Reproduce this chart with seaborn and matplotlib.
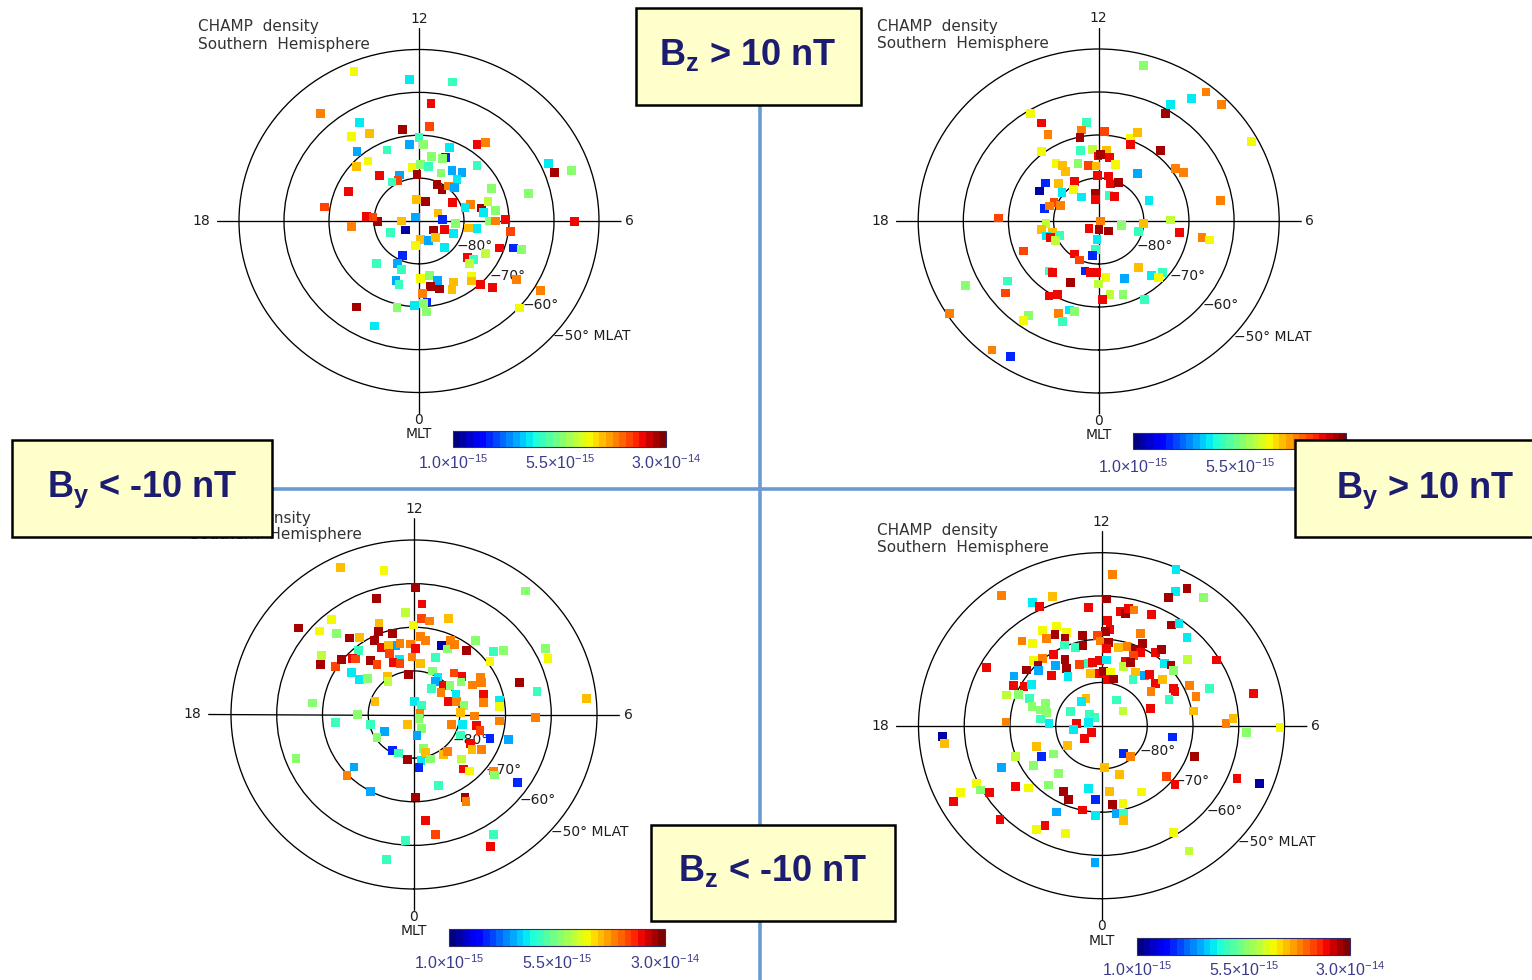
import numpy as np
import pandas as pd
import matplotlib
matplotlib.use("Agg")
import matplotlib as mpl
import matplotlib.pyplot as plt
from matplotlib.colors import LogNorm
from matplotlib.patches import Rectangle
from matplotlib.lines import Line2D
import seaborn as sns

sns.set_style("white")
plt.rcParams["font.family"] = ["DejaVu Sans"]
plt.rcParams["mathtext.fontset"] = "custom"
plt.rcParams["mathtext.rm"] = "Liberation Sans"
plt.rcParams["mathtext.it"] = "Liberation Sans:italic"
plt.rcParams["mathtext.bf"] = "Liberation Sans:bold"
plt.rcParams["mathtext.sf"] = "Liberation Sans"

# ---------------------------------------------------------------------------
# CHAMP neutral density, southern hemisphere, sorted by IMF orientation.
# Each record: (MLT [h], MLAT [deg], density [1e-15 units])
# ---------------------------------------------------------------------------
bz_pos = [
    (13.5, -52.2, 8.8), (12.25, -56.9, 3.4), (11.13, -56.7, 4.4), (14.75, -56.7, 13),
    (11.63, -62.5, 20), (14.0, -63.5, 3.4), (12.64, -68.3, 26), (11.6, -67.9, 16),
    (14.47, -65.2, 8.8), (13.9, -66.8, 10.8), (12.0, -70.6, 4.4), (12.46, -72.0, 2.7),
    (11.78, -72.1, 5.8), (9.61, -68.0, 20), (9.41, -66.4, 13), (14.69, -68.7, 2.7),
    (13.55, -72.0, 4.4), (10.55, -71.6, 3.4), (14.6, -72.0, 8.8), (10.56, -74.0, 1.8),
    (11.31, -74.8, 5.8), (10.69, -74.6, 5.8), (15.16, -71.25, 10.8), (12.48, -77.5, 8.8),
    (11.9, -76.8, 5.8), (11.36, -77.1, 4.4), (9.02, -71.7, 4.4), (14.65, -76.2, 20),
    (13.48, -78.4, 2.7), (12.16, -79.2, 26), (10.43, -77.8, 5.8), (9.88, -76.1, 2.7),
    (9.32, -75.2, 2.7), (13.74, -79.4, 16), (14.23, -79.1, 4.4), (9.27, -77.1, 3.4),
    (10.33, -80.6, 26), (9.67, -81.1, 26), (9.41, -79.5, 13), (8.96, -78.9, 2.7),
    (16.41, -72.9, 20), (7.69, -72.1, 5.8), (7.67, -58.2, 3.4), (7.36, -57.8, 26),
    (7.28, -54.1, 5.8), (6.99, -64.8, 5.8), (12.45, -85.0, 10.8), (10.81, -85.2, 26),
    (7.99, -81.4, 20), (7.23, -78.0, 13), (7.16, -79.3, 3.4), (6.82, -75.8, 26),
    (7.11, -74.0, 7.2), (6.55, -72.8, 5.8), (6.51, -75.5, 3.4), (17.41, -68.8, 16),
    (17.65, -78.25, 20), (18.07, -80.7, 26), (17.65, -79.75, 16), (18.32, -74.95, 13),
    (18.0, -86.1, 10.8), (14.58, -88.8, 2.7), (7.59, -85.4, 10.8), (6.28, -84.7, 1.8),
    (5.71, -81.8, 5.8), (5.44, -78.9, 10.8), (5.47, -77.0, 3.4), (6.0, -74.4, 5.8),
    (6.0, -73.0, 13), (6.08, -70.8, 20), (5.55, -69.5, 16), (5.98, -55.4, 20),
    (19.55, -83.1, 4.4), (20.39, -86.4, 1.2), (3.8, -86.1, 26), (4.73, -84.0, 20),
    (4.59, -81.8, 3.4), (0.27, -85.7, 10.8), (23.51, -84.3, 8.8), (1.62, -85.0, 2.7),
    (2.87, -84.7, 10.8), (2.81, -81.6, 3.4), (4.7, -71.1, 20), (4.89, -68.1, 1.8),
    (4.92, -66.3, 5.8), (22.36, -81.2, 1.8), (3.46, -76.3, 20), (3.55, -74.9, 4.4),
    (4.18, -73.35, 7.2), (3.23, -75.0, 7.2), (21.09, -76.3, 4.4), (22.29, -78.95, 2.7),
    (22.75, -78.0, 4.4), (0.09, -76.55, 8.8), (0.68, -77.0, 5.8), (1.1, -75.6, 2.7),
    (22.65, -75.3, 2.7), (22.89, -74.55, 4.4), (0.62, -74.5, 26), (1.07, -73.5, 26),
    (1.9, -73.8, 10.8), (1.64, -72.4, 10.8), (2.8, -72.65, 8.8), (2.65, -71.8, 10.8),
    (2.84, -69.9, 20), (3.09, -67.4, 20), (3.85, -64.3, 13), (3.93, -58.5, 13),
    (0.18, -73.0, 13), (0.36, -71.0, 1.8), (23.8, -70.3, 3.4), (0.2, -70.7, 5.8),
    (0.29, -68.7, 5.8), (23.09, -69.3, 5.8), (21.68, -65.6, 26), (3.19, -59.8, 8.8),
    (22.54, -63.6, 3.4),
]

by_pos = [
    (10.98, -52.6, 5.8), (9.44, -51.7, 13), (9.61, -54.9, 3.4), (8.99, -51.5, 13),
    (9.97, -58.6, 3.4), (9.96, -60.95, 26), (7.91, -51.5, 8.8), (14.07, -60.8, 8.8),
    (13.94, -63.9, 20), (12.46, -66.9, 4.4), (12.68, -68.5, 13), (13.94, -66.9, 13),
    (12.8, -70.1, 26), (11.77, -69.1, 16), (10.66, -69.55, 8.8), (10.48, -67.7, 10.8),
    (10.55, -70.8, 20), (9.34, -68.6, 26), (14.55, -69.4, 8.8), (12.91, -73.1, 4.4),
    (12.32, -73.25, 7.2), (11.59, -73.5, 10.8), (12.04, -74.9, 20), (11.9, -74.6, 26),
    (11.37, -75.1, 20), (14.36, -73.7, 8.8), (14.12, -74.9, 10.8), (14.18, -76.3, 10.8),
    (13.26, -75.8, 5.8), (12.65, -76.9, 16), (12.18, -77.2, 10.8), (10.96, -76.3, 8.8),
    (8.39, -69.1, 13), (8.05, -68.1, 13), (9.46, -76.05, 2.7), (12.1, -79.5, 20),
    (11.21, -79.3, 20), (10.86, -81.0, 20), (10.25, -80.1, 26), (14.0, -79.4, 20),
    (15.53, -75.3, 1.8), (16.14, -75.1, 1.2), (15.04, -77.6, 10.8), (15.4, -79.55, 3.4),
    (14.48, -80.84, 8.8), (14.3, -83.2, 3.4), (12.39, -83.5, 26), (12.56, -84.9, 20),
    (10.58, -83.7, 4.4), (9.9, -83.36, 20), (7.54, -77.9, 3.4), (6.67, -62.5, 13),
    (17.11, -77.6, 1.8), (16.43, -79.2, 16), (16.82, -78.55, 13), (16.48, -80.8, 13),
    (17.88, -67.7, 16), (18.18, -78.3, 7.2), (18.58, -77.1, 10.8), (18.96, -79.4, 10.8),
    (19.12, -78.0, 3.4), (19.31, -78.7, 20), (19.43, -80.65, 4.4), (19.7, -79.4, 7.2),
    (6.0, -89.56, 13), (20.58, -87.26, 20), (0.14, -88.06, 26), (2.91, -86.78, 26),
    (5.25, -84.88, 5.8), (5.79, -80.0, 10.8), (4.99, -80.82, 4.4), (6.06, -74.0, 7.2),
    (5.44, -71.9, 20), (5.36, -66.8, 13), (5.32, -65.0, 8.8), (23.67, -85.72, 3.4),
    (23.57, -83.37, 4.4), (23.34, -81.9, 1.8), (19.52, -72.0, 16), (21.66, -80.62, 20),
    (22.33, -80.0, 16), (23.02, -78.0, 1.8), (23.39, -77.95, 20), (23.86, -78.1, 20),
    (0.47, -76.8, 8.8), (0.0, -75.35, 7.2), (21.1, -74.0, 4.4), (21.31, -74.3, 20),
    (22.41, -74.4, 26), (1.55, -75.5, 2.7), (2.6, -76.0, 10.8), (2.84, -72.7, 3.4),
    (3.33, -71.5, 4.4), (3.03, -71.3, 8.8), (0.56, -72.8, 7.2), (1.17, -72.1, 5.8),
    (1.92, -69.1, 4.4), (0.19, -71.7, 20), (21.85, -69.4, 20), (22.13, -70.6, 20),
    (19.8, -56.9, 5.8), (20.31, -65.5, 4.4), (20.6, -63.4, 16), (20.2, -50.5, 13),
    (21.64, -63.1, 5.8), (21.62, -61.4, 8.8), (22.51, -66.7, 13), (22.84, -68.3, 3.4),
    (23.05, -68.2, 5.8), (22.75, -65.3, 4.4), (21.45, -51.8, 13), (21.89, -52.9, 1.8),
]

by_neg = [
    (13.71, -52.7, 10.8), (12.75, -56.3, 8.8), (11.96, -60.8, 26), (9.28, -52.6, 5.8),
    (13.14, -62.2, 26), (11.74, -64.6, 20), (12.31, -66.5, 7.2), (15.46, -57.9, 26),
    (14.65, -61.7, 8.8), (15.14, -61.9, 8.8), (14.83, -64.8, 5.8), (13.34, -67.8, 10.8),
    (13.49, -69.4, 26), (12.96, -70.9, 26), (14.58, -67.5, 26), (14.28, -68.7, 10.8),
    (13.8, -71.0, 26), (13.64, -73.1, 20), (12.95, -73.7, 2.7), (13.29, -73.25, 10.8),
    (12.71, -73.4, 13), (12.03, -69.5, 8.8), (11.72, -67.95, 16), (11.41, -68.3, 13),
    (10.73, -66.7, 10.8), (11.69, -72.0, 13), (11.43, -72.8, 13), (12.17, -73.8, 13),
    (11.93, -74.9, 20), (10.61, -73.1, 1.2), (10.26, -73.3, 5.8), (10.33, -71.2, 13),
    (10.07, -71.6, 13), (9.44, -68.4, 5.8), (9.46, -71.3, 26), (8.64, -67.45, 4.4),
    (8.46, -65.6, 5.8), (8.42, -69.4, 8.8), (7.85, -57.6, 5.8), (7.58, -58.0, 8.8),
    (15.73, -65.7, 7.2), (14.65, -71.0, 4.4), (13.41, -75.0, 16), (12.95, -77.0, 3.4),
    (13.42, -77.3, 20), (12.98, -77.9, 16), (12.13, -76.8, 13), (11.53, -78.2, 10.8),
    (10.67, -76.1, 4.4), (16.05, -66.6, 26), (15.84, -69.6, 16), (15.44, -69.7, 26),
    (15.09, -71.5, 20), (15.0, -72.0, 16), (14.5, -74.4, 26), (14.36, -76.0, 16),
    (15.67, -73.35, 3.4), (15.72, -75.7, 3.4), (15.4, -77.0, 5.8), (14.25, -79.5, 10.8),
    (14.45, -80.5, 7.2), (12.48, -80.77, 26), (10.51, -79.2, 5.8), (9.88, -80.03, 3.4),
    (9.84, -81.14, 2.7), (9.06, -80.77, 20), (9.8, -82.9, 4.4), (8.72, -82.19, 13),
    (8.69, -79.65, 5.8), (9.16, -77.05, 16), (8.66, -76.3, 20), (8.39, -77.3, 5.8),
    (7.85, -75.5, 13), (8.02, -73.25, 13), (7.76, -73.5, 13), (7.14, -74.1, 20),
    (6.7, -74.55, 13), (7.17, -65.8, 26), (6.74, -62.6, 4.4), (6.37, -52.2, 10.8),
    (5.9, -63.5, 13), (17.55, -67.65, 5.8), (16.69, -80.94, 10.8), (11.8, -87.1, 3.4),
    (9.4, -87.45, 4.4), (6.66, -88.67, 13), (3.18, -88.53, 5.8), (7.4, -81.87, 20),
    (7.15, -80.22, 13), (7.8, -79.7, 3.4), (6.71, -78.9, 5.8), (6.17, -79.8, 10.8),
    (5.9, -76.8, 13), (6.66, -71.0, 3.4), (6.36, -71.2, 8.8), (5.7, -71.3, 13),
    (18.0, -77.7, 5.8), (18.4, -72.7, 4.4), (18.93, -80.15, 4.4), (20.09, -82.38, 2.7),
    (21.9, -87.22, 10.8), (1.78, -86.41, 5.8), (0.52, -85.14, 2.7), (20.2, -80.34, 5.8),
    (5.0, -81.46, 13), (5.19, -79.2, 3.4), (5.28, -76.1, 20), (5.03, -75.1, 16),
    (4.36, -78.75, 4.4), (4.12, -75.9, 20), (3.85, -75.0, 10.8), (4.1, -73.3, 13),
    (4.78, -72.5, 1.8), (4.97, -68.5, 2.7), (22.02, -80.42, 1.8), (22.61, -80.53, 4.4),
    (23.46, -79.6, 26), (0.55, -79.3, 3.4), (0.34, -77.85, 1.8), (1.01, -81.93, 5.8),
    (1.08, -80.86, 10.8), (1.3, -79.2, 5.8), (2.32, -78.75, 10.8), (2.7, -78.8, 13),
    (3.04, -75.4, 7.2), (2.72, -73.5, 20), (2.88, -72.2, 8.8), (3.56, -68.3, 13),
    (3.44, -67.65, 5.8), (3.69, -62.6, 1.8), (20.83, -72.2, 2.7), (20.9, -69.8, 13),
    (22.1, -70.0, 2.7), (1.21, -72.95, 4.4), (0.06, -71.1, 26), (2.03, -68.0, 26),
    (1.97, -67.0, 13), (19.43, -62.3, 5.8), (0.38, -65.5, 20), (0.65, -62.1, 16),
    (2.15, -57.5, 4.4), (1.93, -55.5, 20), (23.76, -61.0, 4.4), (23.32, -56.3, 4.4),
]

bz_neg = [
    (11.74, -55.0, 13), (10.38, -50.4, 3.4), (9.97, -53.1, 26), (10.16, -55.0, 3.4),
    (10.26, -56.9, 26), (9.54, -52.9, 5.8), (14.4, -52.9, 13), (13.31, -58.2, 10.8),
    (13.86, -57.7, 3.4), (13.75, -59.2, 20), (12.4, -62.5, 20), (11.85, -60.7, 26),
    (11.42, -63.2, 20), (11.23, -63.5, 26), (11.17, -62.3, 20), (11.01, -62.3, 13),
    (10.46, -62.0, 20), (11.79, -65.7, 20), (11.68, -67.6, 20), (11.86, -68.2, 26),
    (9.77, -62.1, 26), (9.63, -60.9, 3.4), (9.16, -62.4, 3.4), (10.56, -67.0, 13),
    (13.55, -65.1, 8.8), (14.02, -64.5, 8.8), (13.29, -67.1, 8.8), (13.72, -66.65, 26),
    (13.44, -68.3, 26), (14.04, -66.5, 13), (14.77, -63.8, 13), (14.55, -65.7, 8.8),
    (13.55, -69.7, 4.4), (13.15, -71.0, 4.4), (12.74, -68.7, 26), (12.82, -71.1, 26),
    (12.15, -69.2, 16), (12.06, -70.4, 13), (11.7, -70.7, 26), (11.78, -72.1, 20),
    (11.23, -71.5, 10.8), (10.87, -70.9, 13), (10.47, -70.8, 26), (10.32, -68.9, 26),
    (10.23, -71.1, 20), (10.44, -72.3, 16), (9.67, -69.4, 20), (9.57, -68.0, 26),
    (14.16, -70.4, 20), (14.64, -69.8, 13), (14.98, -68.8, 8.8), (15.46, -69.1, 26),
    (14.99, -70.3, 26), (15.16, -71.25, 2.7), (14.38, -72.9, 2.7), (13.83, -72.7, 26),
    (14.0, -74.8, 26), (14.19, -76.5, 3.4), (14.87, -74.0, 20), (13.26, -75.1, 16),
    (12.77, -75.4, 4.4), (12.49, -75.2, 20), (12.13, -75.0, 20), (11.71, -74.75, 3.4),
    (12.77, -77.65, 10.8), (12.18, -77.9, 20), (11.85, -77.4, 26), (11.38, -77.45, 8.8),
    (10.72, -74.3, 20), (10.71, -75.5, 7.2), (10.45, -74.0, 26), (9.93, -75.5, 10.8),
    (9.81, -77.3, 4.4), (9.41, -75.0, 2.7), (9.25, -74.2, 20), (9.09, -70.1, 3.4),
    (8.85, -69.3, 26), (8.59, -69.7, 5.8), (8.6, -65.75, 7.2), (8.08, -60.7, 20),
    (11.5, -79.3, 20), (11.09, -78.9, 26), (15.93, -67.7, 2.7), (16.3, -68.6, 20),
    (16.12, -70.8, 20), (15.86, -71.95, 3.4), (16.74, -68.1, 7.2), (16.55, -70.4, 5.8),
    (16.54, -73.0, 4.4), (16.93, -74.2, 5.8), (16.48, -76.65, 5.8), (16.98, -76.2, 5.8),
    (17.04, -77.6, 5.8), (17.56, -76.5, 4.4), (17.82, -78.5, 3.4), (16.12, -61.5, 20),
    (8.64, -74.6, 20), (8.6, -72.9, 10.8), (8.4, -76.6, 13), (7.91, -72.0, 20),
    (7.74, -72.1, 20), (7.47, -74.1, 4.4), (7.7, -68.6, 13), (7.2, -68.3, 13),
    (7.34, -64.9, 4.4), (6.64, -69.6, 10.8), (6.84, -55.9, 20), (7.36, -78.5, 20),
    (10.08, -83.2, 4.4), (8.39, -84.22, 7.2), (13.87, -82.83, 10.8), (14.53, -82.97, 3.4),
    (16.29, -82.54, 4.4), (14.9, -86.29, 4.4), (14.56, -87.54, 4.4), (17.0, -87.05, 3.4),
    (17.62, -84.57, 20), (18.53, -83.81, 3.4), (20.37, -87.22, 20), (20.58, -85.13, 20),
    (17.84, -69.1, 13), (6.08, -62.8, 13), (6.23, -61.2, 10.8), (5.81, -58.3, 5.8),
    (5.96, -51.0, 8.8), (18.28, -55.2, 1.2), (18.46, -55.5, 10.8), (5.36, -74.3, 1.8),
    (20.12, -81.22, 10.8), (19.24, -75.0, 10.8), (19.91, -75.1, 1.8), (20.13, -77.6, 5.8),
    (19.4, -69.9, 7.2), (20.11, -72.5, 5.8), (19.58, -66.1, 2.7), (2.46, -81.98, 1.8),
    (2.75, -80.46, 13), (4.71, -68.4, 26), (0.26, -80.33, 10.8), (21.33, -75.5, 5.8),
    (1.28, -78.0, 10.8), (3.36, -71.5, 16), (3.31, -68.9, 20), (4.51, -58.0, 20),
    (4.59, -52.9, 1.2), (19.74, -59.6, 8.8), (19.96, -59.7, 5.8), (19.78, -55.5, 8.8),
    (19.9, -53.1, 20), (20.16, -61.1, 20), (20.45, -66.6, 20), (20.8, -68.5, 8.8),
    (21.33, -72.1, 5.8), (22.1, -72.6, 26), (22.46, -71.5, 26), (23.28, -75.1, 5.8),
    (23.69, -72.95, 1.8), (0.43, -74.6, 10.8), (1.97, -72.4, 8.8), (0.52, -71.7, 26),
    (0.98, -71.4, 8.8), (23.21, -70.1, 20), (23.76, -69.2, 3.4), (0.6, -69.45, 2.7),
    (0.89, -69.1, 4.4), (0.83, -67.6, 10.8), (22.24, -67.7, 2.7), (20.95, -59.0, 20),
    (21.96, -62.1, 8.8), (22.12, -63.9, 20), (22.84, -63.9, 8.8), (2.17, -60.6, 8.8),
    (2.23, -55.3, 7.2), (23.83, -58.3, 2.7), (23.26, -75.2, 3.4),
]

# Axis annotations
mlt_ticks = [0, 6, 12, 18]
ring_mlat = [-80, -70, -60, -50]
ring_text = ["\u221280\u00b0", "\u221270\u00b0", "\u221260\u00b0", "\u221250\u00b0 MLAT"]
ring_text_mlt = [3.7, 3.4, 3.3, 3.2]
dens_range = (1.0, 30.0)  # 1.0e-15 .. 3.0e-14
cbar_labels = [r"$1.0{\times}10^{-15}$", r"$5.5{\times}10^{-15}$", r"$3.0{\times}10^{-14}$"]
title_lines = ["CHAMP  density", "Southern  Hemisphere"]
imf_labels = [r"$\mathbf{B_z}$ > 10 nT", r"$\mathbf{B_y}$ < -10 nT",
              r"$\mathbf{B_y}$ > 10 nT", r"$\mathbf{B_z}$ < -10 nT"]

# ---------------------------------------------------------------------------
W, H = 1532, 980
fig = plt.figure(figsize=(W / 100, H / 100), dpi=100)
fig.patch.set_facecolor("white")

R_EDGE = 45.0          # colatitude reached by the MLT cross-hair arms
cmap = mpl.colormaps["jet"].resampled(32)
norm = LogNorm(vmin=dens_range[0], vmax=dens_range[1])
TXT = "#1e1e1e"
CB_TXT = "#3b3b8e"


def fig_rect(x0, y0, x1, y1):
    return [x0 / W, 1 - y1 / H, (x1 - x0) / W, (y1 - y0) / H]


# cb_n: how many of the colour-bar labels are drawn (the last one of the
# upper-right dial sits under the B_y > 10 nT box)
panels = [
    dict(rows=bz_pos, c=(419.0, 221.0), r=(180.0, 171.5), title=(198, 27, 44),
         cbar=(453, 431, 666, 447), cb_y=469, cb_n=3),
    dict(rows=by_pos, c=(1098.7, 221.0), r=(180.5, 172.0), title=(877, 26.5, 43.5),
         cbar=(1133, 433, 1346, 449), cb_y=473, cb_n=2),
    dict(rows=by_neg, c=(414.0, 714.5), r=(183.0, 174.5), title=(190, 518, 535),
         cbar=(449, 929, 665, 946), cb_y=969, cb_n=3),
    dict(rows=bz_neg, c=(1101.5, 725.7), r=(183.0, 173.0), title=(877, 530, 547),
         cbar=(1137, 938, 1350, 955), cb_y=976, cb_n=3),
]

for p in panels:
    cx, cy = p["c"]
    rh, rv = p["r"]
    hw, hh = rh * R_EDGE / 40.0, rv * R_EDGE / 40.0
    ax = fig.add_axes(fig_rect(cx - hw, cy - hh, cx + hw, cy + hh), projection="polar")
    ax.set_aspect("auto")
    ax.set_theta_zero_location("S")
    ax.set_theta_direction(1)
    ax.patch.set_alpha(0)

    df = pd.DataFrame(p["rows"], columns=["mlt", "mlat", "dens"])
    df["theta"] = np.radians(df["mlt"] * 15.0)
    df["colat"] = 90.0 + df["mlat"]

    sns.scatterplot(data=df, x="theta", y="colat", hue="dens", hue_norm=norm,
                    palette=cmap, marker="s", s=40, linewidth=0, legend=False,
                    ax=ax, zorder=3)

    ax.set_rlim(0, R_EDGE)
    ax.set_xticks(np.radians([m * 15 for m in mlt_ticks]))
    ax.set_xticklabels([])
    ax.set_yticks([90 + m for m in ring_mlat])
    ax.set_yticklabels([])
    ax.grid(True, color="black", linewidth=0.95, linestyle="-")
    ax.spines["polar"].set_visible(False)
    ax.set_xlabel("")
    ax.set_ylabel("")
    ax.tick_params(length=0)

    # MLT labels around the dial
    lab_kw = dict(ha="center", va="center", fontsize=10, color=TXT)
    ax.text(np.radians(180), 47.1, "12", **lab_kw)
    ax.text(np.radians(270), 48.4, "18", **lab_kw)
    ax.text(np.radians(90), 46.8, "6", **lab_kw)
    ax.text(np.radians(0), 46.4, "0", **lab_kw)
    ax.text(np.radians(0), 49.7, "MLT", **lab_kw)

    # latitude ring labels
    for lat, t_mlt, txt in zip(ring_mlat, ring_text_mlt, ring_text):
        ax.text(np.radians(t_mlt * 15), 90 + lat + 0.2, txt, ha="left", va="center",
                fontsize=10, color=TXT, zorder=2)

    tx, ty1, ty2 = p["title"]
    fig.text(tx / W, 1 - ty1 / H, title_lines[0], ha="left", va="center",
             fontsize=11, color="#333333")
    fig.text(tx / W, 1 - ty2 / H, title_lines[1], ha="left", va="center",
             fontsize=11, color="#333333")

    # colour bar
    x0, y0, x1, y1 = p["cbar"]
    cax = fig.add_axes(fig_rect(x0, y0, x1, y1))
    sm = mpl.cm.ScalarMappable(norm=norm, cmap=cmap)
    cb = fig.colorbar(sm, cax=cax, orientation="horizontal")
    cb.set_ticks([])
    cax.xaxis.set_minor_locator(mpl.ticker.NullLocator())
    cax.tick_params(which="both", length=0)
    cb.outline.set_edgecolor("#2f2f66")
    cb.outline.set_linewidth(0.8)
    label_x = [x0, (x0 + x1) / 2, x1]
    for xpos, lab in list(zip(label_x, cbar_labels))[:p["cb_n"]]:
        fig.text(xpos / W, 1 - p["cb_y"] / H, lab, ha="center", va="baseline",
                 fontsize=11.5, color=CB_TXT)

# blue quadrant dividers
line_kw = dict(transform=fig.transFigure, color="#6b9bd2", linewidth=2.6,
               solid_capstyle="butt", zorder=0.5)
fig.add_artist(Line2D([760.3 / W, 760.3 / W], [1 - 105 / H, 0.0], **line_kw))
fig.add_artist(Line2D([272 / W, 1295 / W], [1 - 489 / H, 1 - 489 / H], **line_kw))

# IMF condition boxes
boxes = [(636, 8.5, 860.5, 105), (11.5, 440, 271.5, 537),
         (1295, 440, 1560, 537), (651, 824.5, 895, 921)]
text_pos = [(748, 65), (142, 497), (1425, 498), (773, 881)]
for (x0, y0, x1, y1), (tx, ty), lab in zip(boxes, text_pos, imf_labels):
    fig.add_artist(Rectangle((x0 / W, 1 - y1 / H), (x1 - x0) / W, (y1 - y0) / H,
                             transform=fig.transFigure, facecolor="#ffffcc",
                             edgecolor="black", linewidth=1.8, zorder=10))
    fig.text(tx / W, 1 - ty / H, lab, ha="center", va="baseline", fontsize=26,
             fontweight="bold", family="Liberation Sans", color="#1c1c70", zorder=11)

fig.savefig("out.png", dpi=100, facecolor="white")
